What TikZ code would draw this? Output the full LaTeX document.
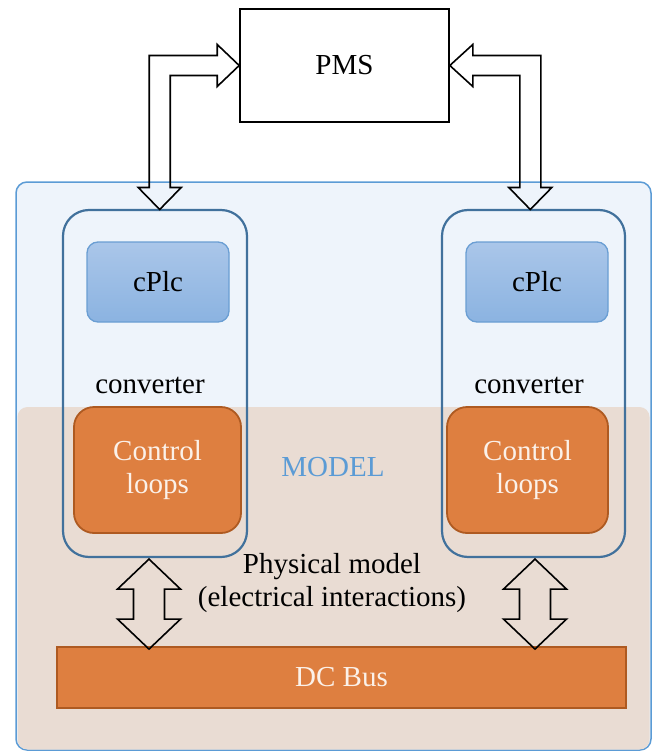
\documentclass[tikz,border=0pt]{standalone}
\usepackage{fontspec}
\setmainfont{Liberation Serif}
\usetikzlibrary{calc}

\definecolor{modelblue}{HTML}{5B9BD5}
\definecolor{modelfill}{HTML}{EEF4FB}
\definecolor{physfill}{HTML}{E9DCD3}
\definecolor{convblue}{HTML}{41719C}
\definecolor{plctop}{HTML}{AAC6E9}
\definecolor{plcbot}{HTML}{8BB3E1}
\definecolor{plcline}{HTML}{6A9ED3}
\definecolor{loopfill}{HTML}{DE7F40}
\definecolor{loopline}{HTML}{AE5A21}
\definecolor{looptext}{HTML}{FBF1E9}

\tikzset{
  convbox/.style={draw=convblue, line width=2.2, rounded corners=26, inner sep=0},
  plcbox/.style={draw=plcline, line width=1.3, rounded corners=11, top color=plctop, bottom color=plcbot, inner sep=0, minimum width=142, minimum height=80},
  loopbox/.style={draw=loopline, line width=1.8, rounded corners=20, fill=loopfill, text=looptext, align=center, inner sep=0, minimum height=126},
  blockarrow/.style={draw=black, line width=1.6, line join=miter},
}

\begin{document}
\begin{tikzpicture}[x=1pt,y=-1pt, font=\fontsize{29}{33}\selectfont]
\useasboundingbox (0,0) rectangle (654,752);

% model area
\node[draw=modelblue, fill=modelfill, line width=1.5, rounded corners=11, inner sep=0,
      minimum width=635, minimum height=568] (model) at (333.5,466) {};
\fill[physfill, rounded corners=10] (17.5,407) rectangle (649.5,749.5);

% PMS
\node[draw, line width=1.6, inner sep=0, minimum width=209, minimum height=113] (pms) at (344.5,65.5) {PMS};

% converters
\node[convbox, minimum width=184, minimum height=347] (convL) at (155,383.5) {};
\node[convbox, minimum width=183, minimum height=347] (convR) at (533.5,383.5) {};

\node[plcbox] (plcL) at (158,282) {cPlc};
\node[plcbox] (plcR) at (537,282) {cPlc};

\node (convLtxt) at (150,385) {converter};
\node (convRtxt) at (529,385) {converter};

\node[loopbox, minimum width=167] (loopL) at (157.5,470) {Control\\loops};
\node[loopbox, minimum width=161] (loopR) at (527.5,470) {Control\\loops};

\node[text=modelblue] (modeltxt) at (333,467) {MODEL};
\node[align=center] (phys) at (332,583) {Physical model\\(electrical interactions)};

% DC bus
\node[draw=loopline, line width=1.8, fill=loopfill, text=looptext, inner sep=0,
      minimum width=569, minimum height=61] (bus) at (341.5,677.5) {DC Bus};

% PMS links
\draw[blockarrow] (pms.west) -- ++(-22,-21) -- ++(0,11) -- ++(-68,0) -- ++(0,132)
  -- ++(-11,0) -- ++(21.5,22) -- ++(21.5,-22) -- ++(-11,0) -- ++(0,-112)
  -- ++(47,0) -- ++(0,11) -- cycle;
\draw[blockarrow] (pms.east) -- ++(23,-21) -- ++(0,11) -- ++(68,0) -- ++(0,132)
  -- ++(11,0) -- ++(-21.5,22) -- ++(-21.5,-22) -- ++(11,0) -- ++(0,-112)
  -- ++(-47,0) -- ++(0,11) -- cycle;

% physical links
\draw[blockarrow] ($(convL.south)+(-6,1)$) -- ++(31.5,30) -- ++(-16,0) -- ++(0,30)
  -- ++(16,0) -- ++(-31.5,30) -- ++(-31.5,-30) -- ++(16,0) -- ++(0,-30)
  -- ++(-16,0) -- cycle;
\draw[blockarrow] ($(convR.south)+(1.5,1)$) -- ++(31.5,30) -- ++(-16,0) -- ++(0,30)
  -- ++(16,0) -- ++(-31.5,30) -- ++(-31.5,-30) -- ++(16,0) -- ++(0,-30)
  -- ++(-16,0) -- cycle;

\end{tikzpicture}
\end{document}
